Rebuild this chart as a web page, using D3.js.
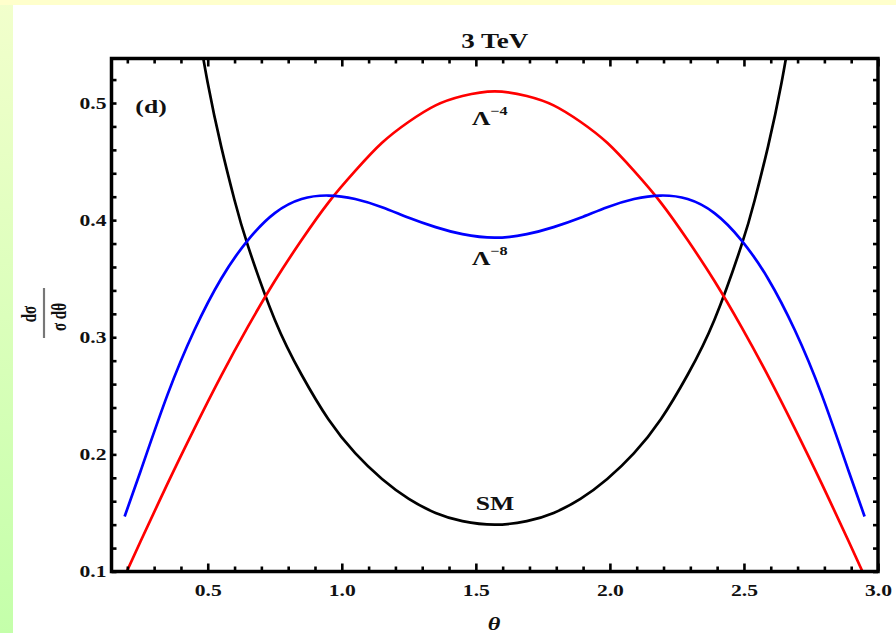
<!DOCTYPE html>
<html>
<head>
<meta charset="utf-8">
<script src="https://cdn.jsdelivr.net/npm/d3@7"></script>
<style>
  body { margin: 0; background: #fff; }
  svg { display: block; }
  text { font-family: "Liberation Serif", "DejaVu Serif", serif; font-weight: bold; fill: #111; }
</style>
</head>
<body>
<svg id="chart" width="896" height="633"></svg>
<script>
// Angular distributions at 3 TeV
const theta = [0.19, 0.25, 0.35, 0.45, 0.55, 0.65, 0.75, 0.85, 0.95, 1.05, 1.15, 1.25, 1.35, 1.45, 1.57,
               1.69, 1.79, 1.89, 1.99, 2.09, 2.19, 2.29, 2.39, 2.49, 2.59, 2.69, 2.79, 2.89, 2.95];
const lambda4 = [0.096, 0.126, 0.175, 0.222, 0.267, 0.309, 0.348, 0.383, 0.415, 0.442, 0.466, 0.484, 0.498, 0.506, 0.510,
                 0.506, 0.498, 0.484, 0.466, 0.442, 0.415, 0.383, 0.348, 0.309, 0.267, 0.222, 0.175, 0.126, 0.096];
const lambda8 = [0.147, 0.186, 0.251, 0.306, 0.350, 0.383, 0.406, 0.418, 0.421, 0.418, 0.411, 0.402, 0.394, 0.388, 0.385,
                 0.388, 0.394, 0.402, 0.411, 0.418, 0.421, 0.418, 0.406, 0.383, 0.350, 0.306, 0.251, 0.186, 0.147];
const smTheta = [0.45, 0.50, 0.55, 0.60, 0.65, 0.75, 0.85, 0.95, 1.05, 1.15, 1.25, 1.35, 1.45, 1.57,
                 1.69, 1.79, 1.89, 1.99, 2.09, 2.19, 2.29, 2.39, 2.49, 2.54, 2.59, 2.64, 2.69];
const sm = [0.583, 0.517, 0.463, 0.417, 0.378, 0.315, 0.268, 0.230, 0.201, 0.179, 0.162, 0.150, 0.143, 0.140,
            0.143, 0.150, 0.162, 0.179, 0.201, 0.230, 0.268, 0.315, 0.378, 0.417, 0.463, 0.517, 0.583];

const xMajor = [0.5, 1.0, 1.5, 2.0, 2.5, 3.0];
const xMinor = [0.2, 0.3, 0.4, 0.6, 0.7, 0.8, 0.9, 1.1, 1.2, 1.3, 1.4, 1.6, 1.7, 1.8, 1.9,
                2.1, 2.2, 2.3, 2.4, 2.6, 2.7, 2.8, 2.9];
const yMajor = [0.1, 0.2, 0.3, 0.4, 0.5];
const yMinor = [0.12, 0.14, 0.16, 0.18, 0.22, 0.24, 0.26, 0.28, 0.32, 0.34, 0.36, 0.38,
                0.42, 0.44, 0.46, 0.48, 0.52];

const svg = d3.select("#chart");
const W = 896, H = 633;
const plotL = 111.5, plotR = 878, plotT = 58.5, plotB = 571.5;
const SX = 1.35; // horizontal stretch applied to all lettering

// page backdrop: pale yellow band on top, green gradient band on the left
const defs = svg.append("defs");
const grad = defs.append("linearGradient").attr("id", "side").attr("x1", 0).attr("y1", 0).attr("x2", 0).attr("y2", 1);
grad.append("stop").attr("offset", "0%").attr("stop-color", "#f2ffcc");
grad.append("stop").attr("offset", "100%").attr("stop-color", "#c4ffaa");
svg.append("rect").attr("width", W).attr("height", H).attr("fill", "url(#side)");
svg.append("rect").attr("width", W).attr("height", 5).attr("fill", "#ffffcc");
svg.append("rect").attr("x", 13).attr("y", 5).attr("width", W - 13).attr("height", H - 5).attr("fill", "#fff");

const x = d3.scaleLinear().domain([0.141, 3.0]).range([plotL, plotR]);
const y = d3.scaleLinear().domain([0.1, 0.538]).range([plotB, plotT]);

defs.append("clipPath").attr("id", "plot")
  .append("rect").attr("x", plotL).attr("y", plotT).attr("width", plotR - plotL).attr("height", plotB - plotT);

// curves
const line = d3.line().x(d => x(d[0])).y(d => y(d[1])).curve(d3.curveNatural);
const curves = svg.append("g").attr("clip-path", "url(#plot)").attr("fill", "none").attr("stroke-width", 2.7);
curves.append("path").attr("d", line(smTheta.map((t, i) => [t, sm[i]]))).attr("stroke", "#000");
curves.append("path").attr("d", line(theta.map((t, i) => [t, lambda4[i]]))).attr("stroke", "#ff0000");
curves.append("path").attr("d", line(theta.map((t, i) => [t, lambda8[i]]))).attr("stroke", "#0000ff");

// inward ticks on all four sides
function tickAxis(axis, tx, ty) {
  const g = svg.append("g").attr("transform", `translate(${tx},${ty})`).call(axis);
  g.select(".domain").remove();
  g.selectAll(".tick line").attr("stroke", "#000").attr("stroke-width", 2.6);
  return g;
}
tickAxis(d3.axisBottom(x).tickValues(xMinor).tickSize(-5).tickFormat(""), 0, plotB);
tickAxis(d3.axisTop(x).tickValues(xMinor).tickSize(-5).tickFormat(""), 0, plotT);
tickAxis(d3.axisTop(x).tickValues(xMajor).tickSize(-8).tickFormat(""), 0, plotT);
tickAxis(d3.axisLeft(y).tickValues(yMinor).tickSize(-5).tickFormat(""), plotL, 0);
tickAxis(d3.axisRight(y).tickValues(yMinor).tickSize(-5).tickFormat(""), plotR, 0);
tickAxis(d3.axisRight(y).tickValues(yMajor).tickSize(-5).tickFormat(""), plotR, 0);

const xAx = tickAxis(d3.axisBottom(x).tickValues(xMajor).tickSize(-8).tickPadding(13).tickFormat(d3.format(".1f")), 0, plotB);
xAx.selectAll("text").attr("font-size", 16).attr("transform", `scale(${SX},1)`);
const yAx = tickAxis(d3.axisLeft(y).tickValues(yMajor).tickSize(-5).tickPadding(6).tickFormat(d3.format(".1f")), plotL, 0);
yAx.selectAll("text").attr("font-size", 16).attr("x", -5 / SX).attr("transform", `scale(${SX},1)`);
svg.selectAll(".tick text").style("font-family", "'Liberation Serif', serif").style("font-weight", "bold").attr("fill", "#111");

// frame
svg.append("rect").attr("x", plotL).attr("y", plotT).attr("width", plotR - plotL).attr("height", plotB - plotT)
  .attr("fill", "none").attr("stroke", "#000").attr("stroke-width", 3.5);

// lettering
function label(str, px, py, size, anchor) {
  return svg.append("text")
    .attr("transform", `translate(${px},${py}) scale(${SX},1)`)
    .attr("text-anchor", anchor || "middle")
    .attr("font-size", size)
    .text(str);
}
label("3 TeV", (plotL + plotR) / 2, 48, 20);
label("(d)", 151, 113, 19);
label("SM", 495, 510, 19);

function lambdaLabel(power, px, py) {
  const t = svg.append("text")
    .attr("transform", `translate(${px},${py}) scale(${SX},1)`)
    .attr("font-size", 19);
  t.append("tspan").text("Λ");
  t.append("tspan").attr("font-size", 12).attr("dy", -10).text("−" + power);
}
lambdaLabel(4, 472, 125);
lambdaLabel(8, 472, 265);

// x label
svg.append("text")
  .attr("transform", `translate(494,630) scale(${SX},1)`)
  .attr("text-anchor", "middle").attr("font-size", 18).attr("font-style", "italic")
  .text("θ");

// y label: dσ over σ dθ, turned on its side
const yl = svg.append("g").attr("transform", `translate(44,314) scale(${SX},1) rotate(-90)`);
yl.append("text").attr("text-anchor", "middle").attr("y", -6).attr("font-size", 15).text("dσ");
yl.append("line").attr("x1", -24).attr("x2", 26).attr("y1", 0).attr("y2", 0)
  .attr("stroke", "#777").attr("stroke-width", 1.6);
yl.append("text").attr("text-anchor", "middle").attr("x", -3).attr("y", 16).attr("font-size", 15).text("σ dθ");
</script>
</body>
</html>
